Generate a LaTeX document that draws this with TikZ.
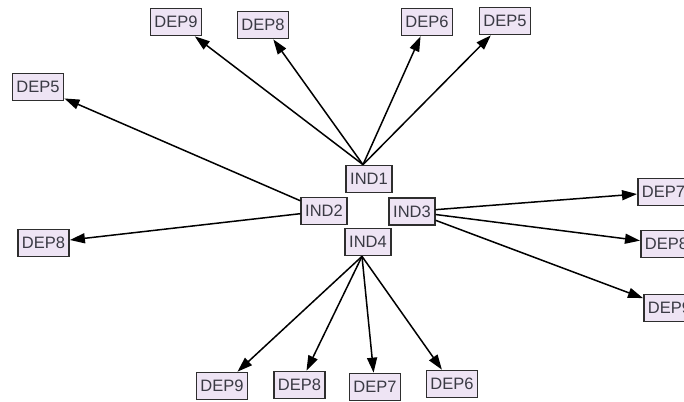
\documentclass[tikz,border=0pt]{standalone}
\usepackage{fontspec}
\setmainfont{Liberation Sans}
\usetikzlibrary{arrows.meta}
\definecolor{boxfill}{HTML}{EEE4F4}
\definecolor{boxdraw}{HTML}{2E2E2E}
\definecolor{txt}{HTML}{3A3A44}
\tikzset{
  var/.style={draw=boxdraw, line width=1.7pt, fill=boxfill, text=txt,
    font=\fontsize{16.5}{16.5}\selectfont, inner xsep=4pt, inner ysep=0pt,
    minimum height=27pt},
  link/.style={line width=1.5pt, draw=black,
    -{Triangle[length=15pt,width=10pt]}}
}
\begin{document}
\begin{tikzpicture}[x=1pt,y=-1pt]
\useasboundingbox (0,0) rectangle (684,401);
\clip (0,0) rectangle (684,401);
\fill[white] (0,0) rectangle (684,401);
% independent
\node[var] (IND1) at (369,179) {IND1};
\node[var] (IND2) at (324,211) {IND2};
\node[var] (IND3) at (412,211.5) {IND3};
\node[var] (IND4) at (368,242) {IND4};
% top
\node[var] (T9) at (176,22) {DEP9};
\node[var] (T8) at (263,25) {DEP8};
\node[var] (T6) at (427,22) {DEP6};
\node[var] (T5) at (505,21) {DEP5};
% left
\node[var] (L5) at (38,87) {DEP5};
\node[var] (L8) at (43.5,243) {DEP8};
% right
\node[var,anchor=west] (R7) at (637,192) {DEP7};
\node[var,anchor=west] (R8) at (640,244) {DEP8};
\node[var,anchor=west] (R9) at (643,308) {DEP9};
% bottom
\node[var] (B9) at (222,386) {DEP9};
\node[var] (B8) at (299.5,385) {DEP8};
\node[var] (B7) at (375,387) {DEP7};
\node[var] (B6) at (452,384) {DEP6};
% connectors
\foreach \t in {T9,T8,T6,T5}
  \draw[link] ([xshift=-6pt]IND1.north) -- (\t);
\foreach \t in {L5,L8}
  \draw[link] (IND2) -- (\t);
\foreach \t in {R7,R8,R9}
  \draw[link] (IND3) -- (\t);
\foreach \t in {B9,B8,B7,B6}
  \draw[link] ([xshift=-6pt]IND4.south) -- (\t);
\end{tikzpicture}
\end{document}
